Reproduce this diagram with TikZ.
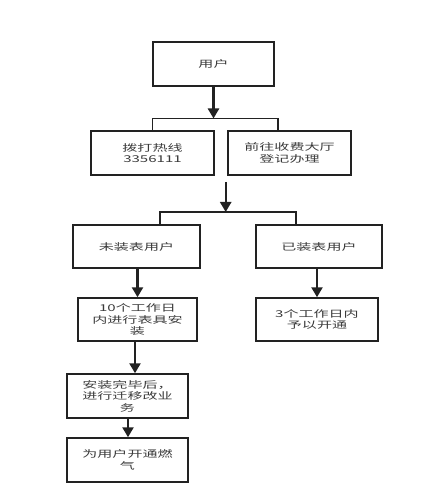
\documentclass[tikz,border=0pt]{standalone}
\usepackage{fontspec}
\newfontfamily\cjk[FakeStretch=1.6]{Noto Sans CJK SC}
\usetikzlibrary{arrows.meta}
\definecolor{boxline}{HTML}{222222}
\definecolor{boxtext}{HTML}{3A3A3A}
\begin{document}
\begin{tikzpicture}[
        x=1pt, y=-1pt,
        >={Triangle[width=11pt,length=10pt]},
        box/.style={draw=boxline, line width=1.5pt, align=center, text=boxtext,
            inner sep=0pt, font=\cjk\fontsize{9.4}{11.5}\selectfont},
        flow/.style={->, line width=2.4pt, draw=boxline},
        brace/.style={line width=1.5pt, draw=boxline},
        ]
        \useasboundingbox (0,0) rectangle (447,502);

        % Boxes
        \node[box, minimum width=121pt, minimum height=44pt] (user) at (213.5,64) {用户};
        \node[box, minimum width=123pt, minimum height=44pt] (hotline) at (152.5,153) {拨打热线\\3356111};
        \node[box, minimum width=123pt, minimum height=44pt] (hall) at (289.5,153) {前往收费大厅\\登记办理};
        \node[box, minimum width=127pt, minimum height=43pt] (nometer) at (136.5,246.5) {未装表用户};
        \node[box, minimum width=126pt, minimum height=43pt] (hasmeter) at (319,246.5) {已装表用户};
        \node[box, minimum width=119pt, minimum height=43pt] (install) at (137.5,319.5) {10个工作日\\内进行表具安\\装};
        \node[box, minimum width=122pt, minimum height=43pt] (open3) at (317,319.5) {3个工作日内\\予以开通};
        \node[box, minimum width=121pt, minimum height=44pt] (relocate) at (127.5,396) {安装完毕后，\\进行迁移改业\\务};
        \node[box, minimum width=121pt, minimum height=44pt] (gas) at (127.5,460) {为用户开通燃\\气};

        % Junctions
        \coordinate (fork1) at (213.5,118.5);
        \coordinate (fork1l) at (152.5,118.5);
        \coordinate (fork1r) at (278,118.5);
        \coordinate (join) at (225.7,182);
        \coordinate (fork2) at (225.7,212);
        \coordinate (fork2l) at (160,212);
        \coordinate (fork2r) at (296,212);

        % Arrows
        \draw[flow] (user) -- (fork1);
        \draw[brace] (hotline.north) -- (fork1l) -- (fork1r) -- (hall.north -| fork1r);
        \draw[flow] (join) -- (fork2);
        \draw[brace] (nometer.north -| fork2l) -- (fork2l) -- (fork2r) -- (hasmeter.north -| fork2r);
        \draw[flow] (nometer.south -| install) -- (install);
        \draw[flow] (hasmeter.south -| open3) -- (open3);
        \draw[flow] (install.south -| 135,0) -- (relocate.north -| 135,0);
        \draw[flow] (relocate.south -| 128,0) -- (gas.north -| 128,0);

    \end{tikzpicture}
\end{document}
